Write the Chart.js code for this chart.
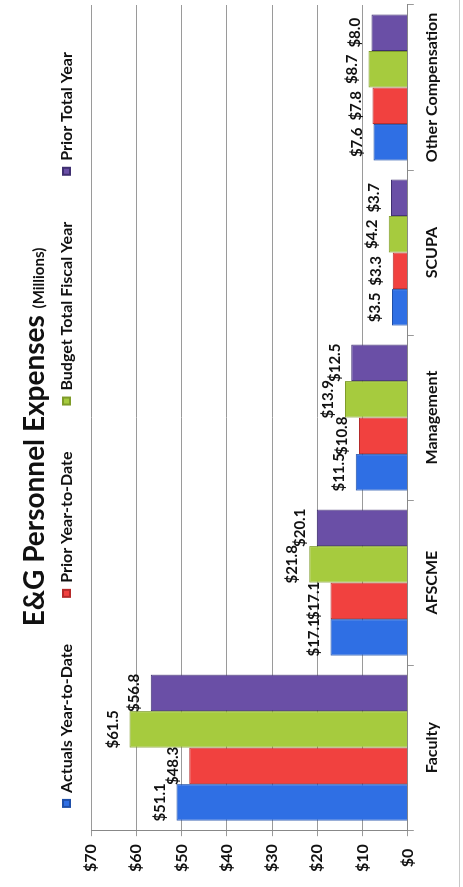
<!DOCTYPE html>
<html>
<head>
<meta charset="utf-8">
<script src="https://cdn.jsdelivr.net/npm/chart.js@4.4.1/dist/chart.umd.min.js"></script>
<style>
	html, body { margin: 0; padding: 0; background: #fff; }
	body { width: 463px; height: 887px; position: relative; overflow: hidden; }
	/* chart is drawn landscape, then turned on its side like the scan */
	#wrap {
		position: absolute; left: 0; top: 0;
		width: 887px; height: 463px;
		transform-origin: 0 0;
		transform: translateY(887px) rotate(-90deg);
	}
	#edge { position: absolute; left: 459px; top: 0; width: 1px; height: 887px; background: #c8c8c8; }
</style>
</head>
<body>
<div id="wrap"><canvas id="myChart" width="887" height="463"></canvas></div>
<div id="edge"></div>
<script>
// Data

const categories = ['Faculty', 'AFSCME', 'Management', 'SCUPA', 'Other Compensation'];
const seriesNames = ['Actuals Year-to-Date', 'Prior Year-to-Date', 'Budget Total Fiscal Year', 'Prior Total Year'];
const actualsYTD = [51.1, 17.1, 11.5, 3.5, 7.6];
const priorYTD = [48.3, 17.1, 10.8, 3.3, 7.8];
const budgetTotal = [61.5, 21.8, 13.9, 4.2, 8.7];
const priorTotal = [56.8, 20.1, 12.5, 3.7, 8.0];
const yMin = 0, yMax = 70, yStep = 10;

const colors = ['#2f6fe4', '#f1413f', '#a6cb3e', '#6a4fa6'];
const edgeColors = ['#1f4fa8', '#b52a2a', '#7f9c2a', '#3f2f70'];
const font = 'Lato, "Open Sans", sans-serif';

// Title drawn by hand, two font sizes in one line

const titlePlugin = {
	id: 'titleDraw',
	afterDraw(chart) {
		let ctx = chart.ctx;
		ctx.save();
		ctx.fillStyle = '#111';
		ctx.textBaseline = 'alphabetic';
		ctx.font = 'bold 28px ' + font;
		let main = 'E&G Personnel Expenses ';
		let w1 = ctx.measureText(main).width;
		ctx.font = 'bold 15px ' + font;
		let sub = '(Millions)';
		let w2 = ctx.measureText(sub).width;
		let x = 450 - (w1 + w2) / 2;
		ctx.font = 'bold 28px ' + font;
		ctx.fillText(main, x, 44);
		ctx.font = 'bold 15px ' + font;
		ctx.fillText(sub, x + w1, 44);
		ctx.restore();
	}
};

// Legend row under the title

const legendPlugin = {
	id: 'legendDraw',
	afterDraw(chart) {
		let ctx = chart.ctx;
		ctx.save();
		ctx.font = 'bold 16px ' + font;
		let gap = 46;
		let widths = seriesNames.map(n => 9 + 6 + ctx.measureText(n).width);
		let total = widths.reduce((a, b) => a + b, 0) + gap * (widths.length - 1);
		let x = 457 - total / 2;
		ctx.textBaseline = 'middle';
		seriesNames.forEach((name, i) => {
			ctx.fillStyle = edgeColors[i];
			ctx.fillRect(x, 62, 9, 9);
			ctx.fillStyle = colors[i];
			ctx.fillRect(x + 2, 64, 5, 5);
			ctx.fillStyle = '#111';
			ctx.fillText(name, x + 15, 67);
			x += widths[i] + gap;
		});
		ctx.restore();
	}
};

// Value labels above each bar

const valuePlugin = {
	id: 'valueLabels',
	afterDatasetsDraw(chart) {
		let ctx = chart.ctx;
		ctx.save();
		ctx.font = 'bold 15px ' + font;
		ctx.fillStyle = '#111';
		ctx.textAlign = 'center';
		ctx.textBaseline = 'bottom';
		chart.data.datasets.forEach((ds, i) => {
			chart.getDatasetMeta(i).data.forEach((bar, j) => {
				ctx.fillText('$' + ds.data[j].toFixed(1), bar.x, bar.y - 9);
			});
		});
		ctx.restore();
	}
};

const seriesData = [actualsYTD, priorYTD, budgetTotal, priorTotal];

const ctx = document.getElementById('myChart').getContext('2d');
const myChart = new Chart(ctx, {
	type: 'bar',
	data: {
		labels: categories,
		datasets: seriesData.map((d, i) => ({
			label: seriesNames[i],
			data: d,
			backgroundColor: colors[i],
			borderColor: edgeColors[i],
			borderWidth: 1,
			categoryPercentage: 0.885,
			barPercentage: 1.0
		}))
	},
	options: {
		responsive: false,
		animation: false,
		devicePixelRatio: 1,
		layout: {
			padding: { top: 91, left: 7, right: 5, bottom: 14 }
		},
		plugins: {
			legend: { display: false },
			title: { display: false },
			tooltip: { enabled: false }
		},
		scales: {
			x: {
				grid: { drawOnChartArea: false, drawTicks: true, tickLength: 6, color: '#999', offset: true },
				border: { display: true, color: '#888' },
				ticks: { color: '#111', font: { family: font, size: 16, weight: 'bold' }, padding: 8, maxRotation: 0, autoSkip: false }
			},
			y: {
				min: yMin,
				max: yMax,
				grid: { color: '#9a9a9a', tickLength: 6 },
				border: { display: true, color: '#888' },
				ticks: {
					stepSize: yStep,
					color: '#111',
					crossAlign: 'center',
					padding: 8,
					font: { family: font, size: 16, weight: 'bold' },
					callback: v => '$' + v
				}
			}
		}
	},
	plugins: [titlePlugin, legendPlugin, valuePlugin]
});
</script>
</body>
</html>
